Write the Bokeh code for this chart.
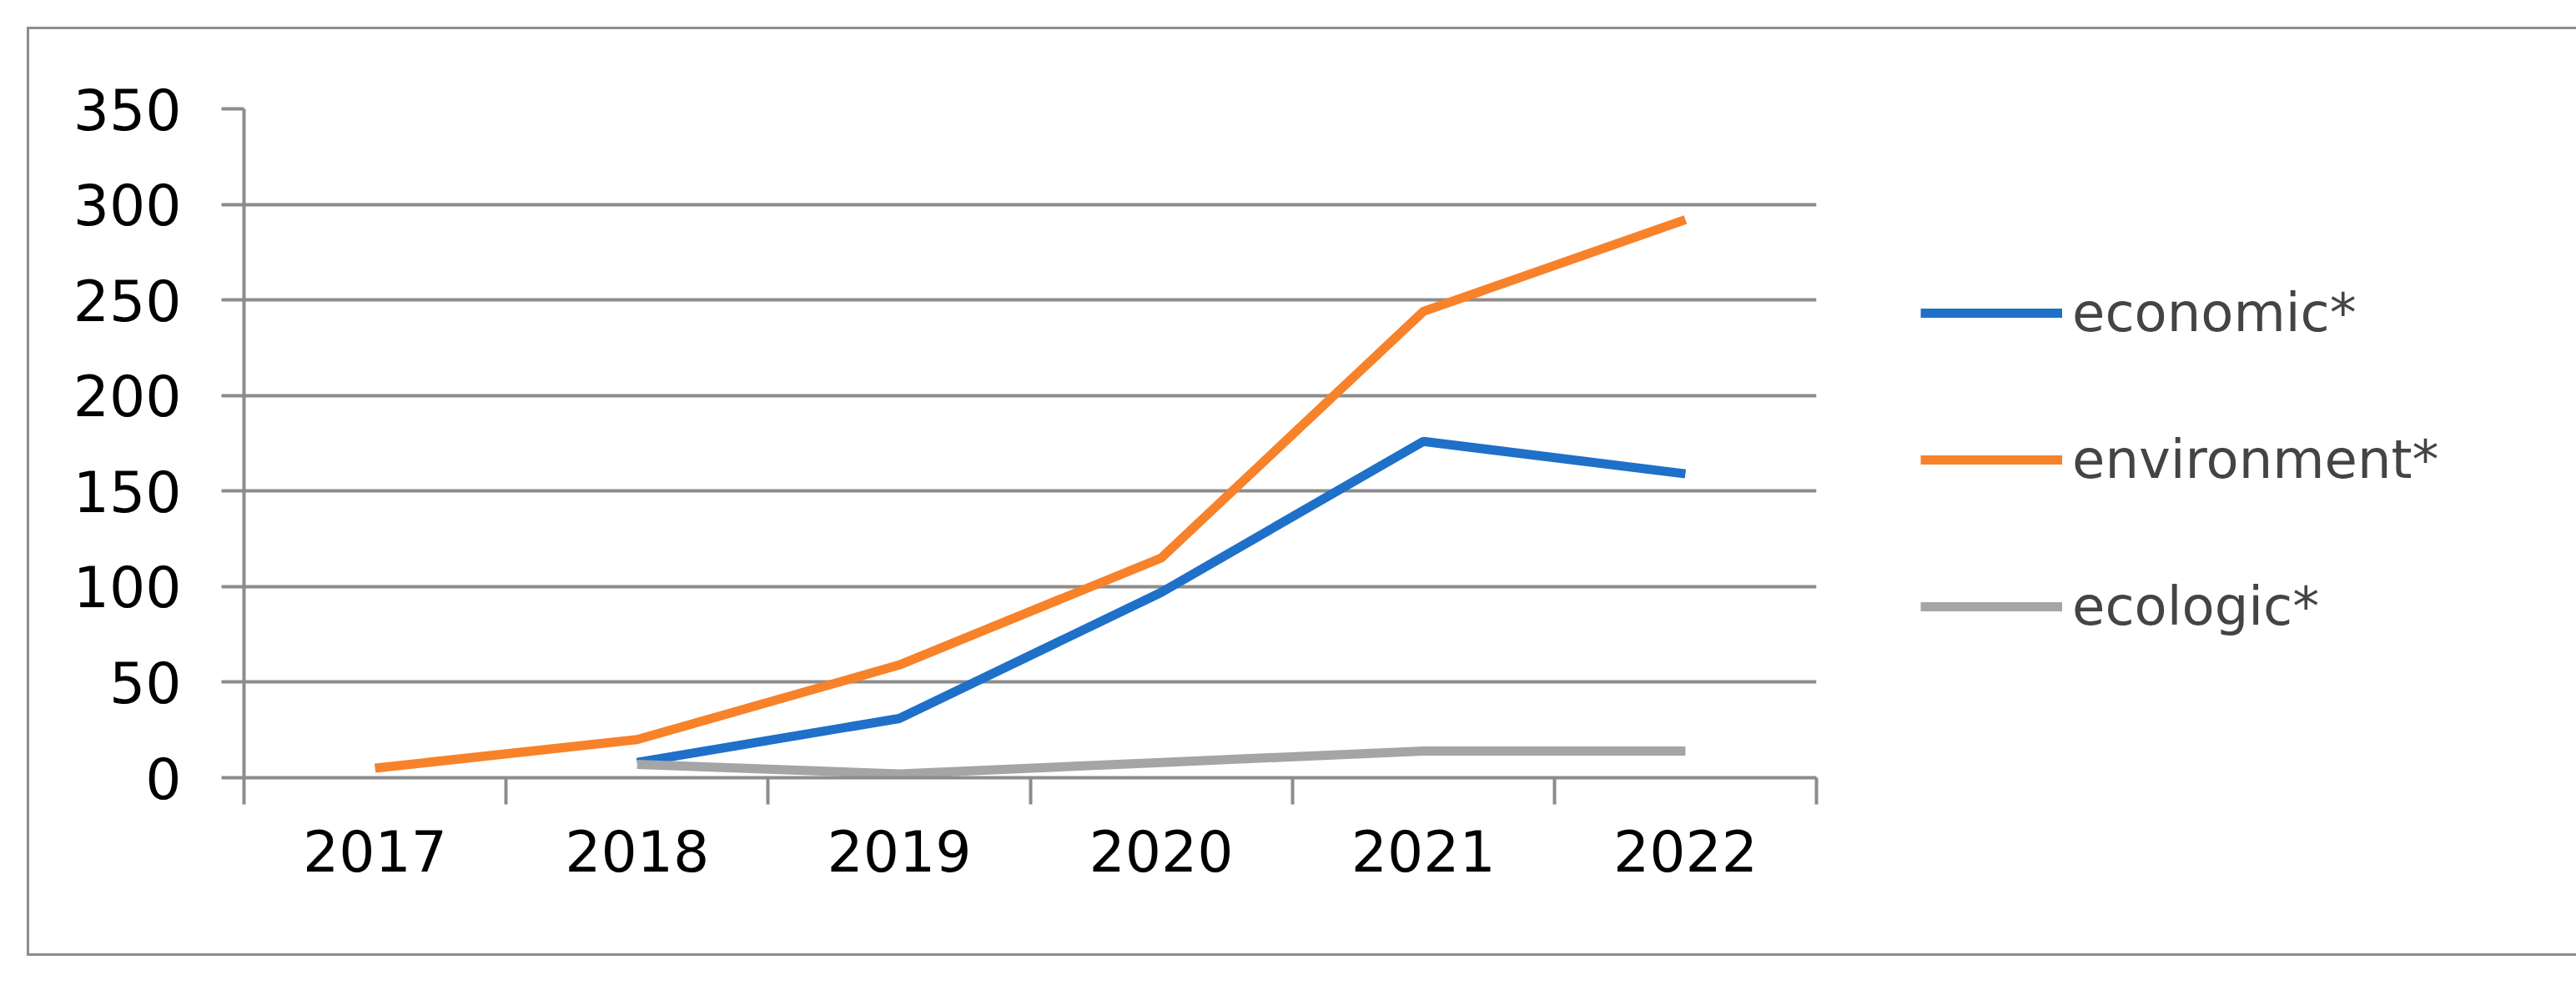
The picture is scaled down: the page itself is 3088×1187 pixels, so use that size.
from bokeh.plotting import figure
from bokeh.models import FixedTicker, Range1d, LinearAxis, Legend, LegendItem
from bokeh.embed import file_html
from bokeh.resources import INLINE

years = ["2017", "2018", "2019", "2020", "2021", "2022"]
economic = [None, 8, 31, 97, 176, 159]
environment = [5, 20, 59, 115, 244, 292]
ecologic = [None, 7, 2, 8, 14, 14]
y_ticks = [0, 50, 100, 150, 200, 250, 300, 350]

FONT = "DejaVu Sans"
GREY = "#8c8c8c"
p = figure(frame_width=1885, frame_height=802, min_border_left=257, min_border_top=95,
           min_border_right=100, min_border_bottom=211, output_backend="svg",
           toolbar_location=None, x_range=Range1d(0, 6), y_range=Range1d(0, 350),
           x_axis_type=None)
p.margin = (32, 0, 0, 32)
p.styles = {"border": "3px solid #8c8c8c"}
p.outline_line_color = None
p.xgrid.visible = False
p.ygrid.ticker = FixedTicker(ticks=y_ticks)
p.ygrid.grid_line_color = GREY
p.ygrid.grid_line_width = 4

ya = p.yaxis[0]
ya.ticker = FixedTicker(ticks=y_ticks)
ya.axis_line_color = GREY; ya.axis_line_width = 4
ya.major_tick_line_color = GREY; ya.major_tick_line_width = 4
ya.major_tick_in = 0; ya.major_tick_out = 27
ya.minor_tick_line_color = None
ya.major_label_text_font = FONT
ya.major_label_text_font_size = "68px"
ya.major_label_text_color = "black"
ya.major_label_standoff = 48

xt = LinearAxis(ticker=FixedTicker(ticks=[0, 1, 2, 3, 4, 5, 6]))
xt.axis_line_color = GREY; xt.axis_line_width = 4
xt.major_tick_line_color = GREY; xt.major_tick_line_width = 4
xt.major_tick_in = 0; xt.major_tick_out = 32
xt.minor_tick_line_color = None
xt.major_label_text_alpha = 0
xt.major_label_text_font_size = "56px"

xs = [i + 0.5 for i in range(len(years))]
xl = LinearAxis(ticker=FixedTicker(ticks=xs),
                major_label_overrides={x: y for x, y in zip(xs, years)})
xl.axis_line_color = None; xl.major_tick_line_color = None; xl.minor_tick_line_color = None
xl.major_label_text_font = FONT; xl.major_label_text_font_size = "68px"
xl.major_label_text_color = "black"
xl.major_label_standoff = 24
p.add_layout(xt, "below")
p.add_layout(xl, "below")

def seg(vals):
    return [x for x, v in zip(xs, vals) if v is not None], [v for v in vals if v is not None]

r1 = p.line(*seg(economic), line_color="#1f70c8", line_width=11)
r2 = p.line(*seg(environment), line_color="#f7822a", line_width=11)
r3 = p.line(*seg(ecologic), line_color="#a5a5a5", line_width=11)

leg = Legend(items=[LegendItem(label="economic*", renderers=[r1]),
                    LegendItem(label="environment*", renderers=[r2]),
                    LegendItem(label="ecologic*", renderers=[r3])],
             location=(125, 168), glyph_width=170, glyph_height=50, label_height=50,
             spacing=102, padding=0, margin=0, label_standoff=12,
             label_text_font=FONT, label_text_font_size="64px",
             background_fill_alpha=0, border_line_color=None)
p.add_layout(leg, "right")

open("out.html", "w").write(file_html(p, INLINE))
